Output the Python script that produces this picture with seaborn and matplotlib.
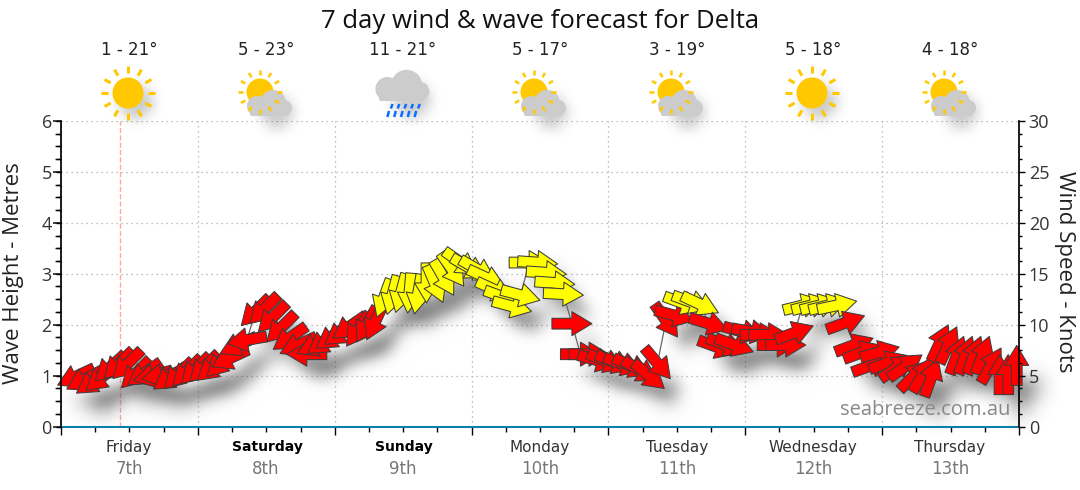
import numpy as np
import pandas as pd
import matplotlib
matplotlib.use('Agg')
import matplotlib.pyplot as plt
import seaborn as sns
from matplotlib.markers import MarkerStyle
from matplotlib.patches import Circle, FancyBboxPatch
from matplotlib.path import Path
from matplotlib.transforms import Affine2D

# forecast steps, in hours from the start of Friday
hours = [2.6, 4.1, 5.6, 7.1, 8.6, 10.1, 11.6, 13.1, 14.6, 16.1, 17.6, 19.1, 20.6, 22.1,
         23.6, 25.1, 26.6, 28.1, 29.6, 31.1, 32.6, 34.1, 35.6, 37.1, 38.6, 40.1, 41.6, 43.1, 44.6, 46.1,
         47.6, 49.1, 50.6, 52.1, 53.6, 55.1, 56.6, 58.1, 59.6, 61.1, 62.6, 64.1, 65.6, 67.1, 68.6, 70.1,
         71.6, 73.1, 74.6, 76.1, 77.6, 79.1, 80.6, 82.1, 83.6, 85.1, 86.6, 88.1, 89.6, 91.1, 92.6, 94.1,
         95.6, 97.1, 98.6, 100.1, 101.6, 103.1, 104.6, 106.1, 107.6, 109.1, 110.6, 112.1, 113.6, 115.1, 116.6, 118.1,
         119.6, 121.1, 122.6, 124.1, 125.6, 127.1, 128.6, 130.1, 131.6, 133.1, 134.6, 136.1, 137.6, 139.1, 140.6, 142.1,
         143.6, 145.1, 146.6, 148.1, 149.6, 151.1, 152.6, 154.1, 155.6, 157.1, 158.6, 160.1, 161.6, 163.1, 164.6, 166.1,
         167.6]
# wind speed in knots (right axis)
wind = [4.9, 4.6, 4.4, 4.8, 5.8, 6.1, 6.1, 5.2, 5.2, 5.0, 5.0, 4.8, 5.1, 5.4,
        5.6, 5.8, 5.8, 6.3, 6.7, 8.0, 8.5, 11.3, 11.5, 10.7, 9.7, 8.7, 8.0, 7.1, 8.0, 8.3,
        8.8, 9.2, 9.8, 9.5, 10.0, 10.3, 12.6, 12.9, 13.1, 13.1, 13.0, 14.1, 14.0, 14.6, 15.4, 16.1,
        15.6, 15.4, 14.6, 13.4, 12.7, 11.8, 12.9, 16.1, 16.1, 15.1, 14.1, 13.0, 10.1, 7.1, 7.1, 6.5,
        6.4, 6.3, 6.1, 5.9, 5.5, 5.0, 6.2, 10.4, 10.9, 12.1, 12.2, 12.0, 10.1, 7.8, 8.0, 8.0,
        9.3, 9.3, 9.0, 9.0, 8.0, 8.0, 9.2, 11.9, 11.9, 11.9, 11.9, 11.9, 10.2, 8.0, 7.3, 6.0,
        7.3, 6.3, 5.8, 5.9, 5.0, 5.1, 4.8, 8.2, 8.0, 7.0, 7.0, 7.0, 7.0, 6.0, 5.1, 5.1,
        6.0]
# arrow heading in degrees (0 = pointing right, anticlockwise)
heading = [205, 208, 215, 220, 222, 225, 225, 225, 215, 195, 190, 215, 225, 225,
           225, 225, 220, 225, 205, 205, 190, 225, 225, 225, 225, 215, 205, 180, 205, 215,
           215, 215, 215, 235, 240, 245, 250, 255, 255, 265, 260, 270, 293, 300, 305, 325,
           330, 330, 335, 335, 340, 345, 345, 0, -4, -4, -4, -3, 0, 0, 0, -15,
           -22, -22, -20, -25, -30, -40, -50, -55, -15, -20, -20, -25, -17, -20, -20, -20,
           -15, -10, 0, 0, 0, 0, 20, 14, 14, 14, 14, 12, 20, 20, 20, 20,
           15, 20, 35, 35, 45, 60, 70, 65, 65, 70, 70, 70, 70, 60, 90, 90,
           90]
# R = red arrow, Y = yellow arrow
colour_code = ['R'] * 36 + ['Y'] * 22 + ['R'] * 13 + ['Y'] * 3 + ['R'] * 11 + ['Y'] * 5 + ['R'] * 21

days = ['Friday', 'Saturday', 'Sunday', 'Monday', 'Tuesday', 'Wednesday', 'Thursday']
dates = ['7th', '8th', '9th', '10th', '11th', '12th', '13th']
bold_days = ['Saturday', 'Sunday']
temps = ['1 - 21°', '5 - 23°', '11 - 21°', '5 - 17°', '3 - 19°', '5 - 18°', '4 - 18°']
icons = ['sun', 'partly', 'rain', 'partly', 'partly', 'sun', 'partly']
icon_x = [128, 265, 402, 539, 676, 812, 949]
now_hour = 10.4

FONT = 'Open Sans'
sns.set_theme(style='white')
plt.rcParams['font.family'] = [FONT, 'DejaVu Sans']

RED, YELLOW, EDGE = '#ff0000', '#ffff00', '#3c3c3c'
SUN, CLOUD, DROP = '#ffc800', '#cccccc', '#0a6cff'


def arrow_marker(angle):
    # tail at -1, base of head at 0, tip at 1
    verts = [(-1, -0.27), (0, -0.27), (0, -0.6), (1, 0), (0, 0.6), (0, 0.27), (-1, 0.27), (-1, -0.27)]
    shape = Path(verts, closed=True)
    return MarkerStyle(shape, transform=Affine2D().rotate_deg(angle))


def soft_shadow(sigma, dx, dy):
    # agg filter: gaussian blur plus an offset, so shadows look like the canvas ones
    radius = int(3 * sigma)
    kernel = np.exp(-0.5 * (np.arange(-radius, radius + 1) / sigma) ** 2)
    kernel = kernel / kernel.sum()

    def apply(im, dpi):
        pad = radius + max(abs(dx), abs(dy)) + 1
        out = np.pad(im, [(pad, pad), (pad, pad), (0, 0)], 'constant')
        out = np.apply_along_axis(np.convolve, 0, out, kernel, mode='same')
        out = np.apply_along_axis(np.convolve, 1, out, kernel, mode='same')
        out = np.roll(out, dx, axis=1)
        out = np.roll(out, dy, axis=0)
        return out, -pad, -pad
    return apply


fig = plt.figure(figsize=(10.8, 4.9), dpi=100)
ax = fig.add_axes([61 / 1080, 1 - 426.5 / 490, 958 / 1080, 305.5 / 490], facecolor='none')
ax.set_xlim(0, 168)
ax.set_ylim(0, 30)

df = pd.DataFrame({'hour': hours, 'wind': wind, 'heading': heading, 'code': colour_code})
markers = {h: arrow_marker(h) for h in sorted(set(heading))}
ARROW_SIZE = 829

# shadow layer first
sns.scatterplot(data=df, x='hour', y='wind', style='heading', markers=markers, color='black',
                s=ARROW_SIZE, linewidth=0, alpha=0.4, legend=False, ax=ax, zorder=2, clip_on=False)
ax.collections[-1].set_agg_filter(soft_shadow(7, 8, 10))

sns.lineplot(data=df, x='hour', y='wind', color='#666666', linewidth=0.9, sort=False,
             legend=False, ax=ax, zorder=3)
sns.scatterplot(data=df, x='hour', y='wind', style='heading', markers=markers, hue='code',
                palette={'R': RED, 'Y': YELLOW}, s=ARROW_SIZE, linewidth=0.75, edgecolor=EDGE,
                legend=False, ax=ax, zorder=4, clip_on=False)

ax.set_xlabel('')
ax.set_ylabel('')
ax.set_xticks(range(0, 169, 24))
ax.set_xticks(range(0, 169, 6), minor=True)
ax.set_xticklabels([])
ax.set_yticks(range(0, 31, 5))
ax.set_yticklabels([])
ax.set_yticks(np.arange(0, 30.1, 1.25), minor=True)
ax.tick_params(axis='x', which='major', direction='out', length=6, width=1, color='black', bottom=True)
ax.tick_params(axis='x', which='minor', direction='out', length=3.5, width=1, color='black', bottom=True)
ax.tick_params(axis='y', which='both', left=False, right=False)
ax.grid(True, which='major', linestyle=(0, (1, 3)), color='#aaaaaa', linewidth=0.9)
ax.set_axisbelow(True)
for side in ['top', 'left', 'right']:
    ax.spines[side].set_visible(False)
ax.spines['bottom'].set_color('#0a80aa')
ax.spines['bottom'].set_linewidth(1.5)
ax.axvline(now_hour, color='#ffa8a8', linestyle='--', linewidth=1, zorder=1)

# left axis in metres, right axis in knots
left = ax.twinx()
left.yaxis.set_ticks_position('left')
left.set_ylim(0, 6)
left.set_yticks(range(0, 7))
left.set_yticks(np.arange(0, 6.1, 0.25), minor=True)
left.tick_params(axis='y', which='both', direction='out', length=3.6, width=1, color='black', pad=3,
                 labelsize=13, labelcolor='#333333', left=True)
left.grid(False)
for side in ['top', 'right', 'bottom']:
    left.spines[side].set_visible(False)
left.spines['left'].set_color('black')
left.patch.set_visible(False)

right = ax.twinx()
right.set_ylim(0, 30)
right.set_yticks(range(0, 31, 5))
right.set_yticks(np.arange(0, 30.1, 1.25), minor=True)
right.tick_params(axis='y', which='major', direction='out', length=4, width=1, color='black', pad=3,
                  labelsize=13, labelcolor='#333333', right=True)
right.tick_params(axis='y', which='minor', direction='out', length=2.2, width=1, color='black', right=True)
right.grid(False)
for side in ['top', 'left', 'bottom']:
    right.spines[side].set_visible(False)
right.spines['right'].set_color('black')
right.patch.set_visible(False)

# page furniture goes on a full-figure overlay in pixel coordinates
page = fig.add_axes([0, 0, 1, 1], facecolor='none', zorder=5)
page.set_xlim(0, 1080)
page.set_ylim(490, 0)
page.axis('off')

page.text(540, 21, '7 day wind & wave forecast for Delta', ha='center', va='center', fontsize=18.5, color='#111111')
page.text(14, 273, 'Wave Height - Metres', rotation=90, ha='center', va='center', fontsize=16, color='#222222')
page.text(1065, 272, 'Wind Speed - Knots', rotation=270, ha='center', va='center', fontsize=16, color='#222222')
page.text(925, 410, 'seabreeze.com.au', ha='center', va='center', fontsize=14.5, color='#888888')


def draw_sun(x, y, r, ray_in, ray_out, width):
    for a in np.radians(np.arange(0, 360, 30)):
        page.plot([x + ray_in * np.cos(a), x + ray_out * np.cos(a)],
                  [y + ray_in * np.sin(a), y + ray_out * np.sin(a)],
                  color=SUN, linewidth=width, solid_capstyle='butt')
    page.add_patch(Circle((x, y), r, color=SUN, linewidth=0))


def draw_cloud(x, y, scale):
    # x, y is the middle of the flat base
    parts = [Circle((x - 13 * scale, y - 10 * scale), 10 * scale),
             Circle((x + 3 * scale, y - 13 * scale), 13 * scale),
             Circle((x + 14 * scale, y - 8 * scale), 8 * scale),
             FancyBboxPatch((x - 20 * scale, y - 8 * scale), 38 * scale, 8 * scale,
                            boxstyle='round,pad=0,rounding_size=2')]
    for p in parts:
        p.set(facecolor=CLOUD, edgecolor='none')
        page.add_patch(p)


def icon_shadow(x, y, r):
    shade = Circle((x, y), r, facecolor='black', alpha=0.2, edgecolor='none')
    page.add_patch(shade)
    shade.set_agg_filter(soft_shadow(6, 0, 0))


for day, date, temp, icon, x in zip(days, dates, temps, icons, icon_x):
    if day in bold_days:
        page.text(x + 2, 447, day, ha='center', va='center', fontsize=10, color='black', fontweight='bold', family='DejaVu Sans')
    else:
        page.text(x + 1, 447, day, ha='center', va='center', fontsize=11, color='#333333', family='DejaVu Sans')
    page.text(x + 1, 469, date, ha='center', va='center', fontsize=12, color='#777777', family='DejaVu Sans')
    page.text(x + 1, 50, temp, ha='center', va='center', fontsize=12, color='#222222', family='DejaVu Sans')
    if icon == 'sun':
        icon_shadow(x + 8, 102, 18)
        draw_sun(x, 93, 15.5, 20, 27, 2.2)
    elif icon == 'partly':
        icon_shadow(x + 12, 112, 17)
        draw_sun(x - 5, 92, 13.5, 17, 22, 1.8)
        draw_cloud(x + 5, 116, 1.0)
    else:
        icon_shadow(x + 10, 100, 19)
        draw_cloud(x + 1, 101, 1.2)
        for col in range(5):
            for row in [0, 1]:
                x0 = x - 11 + col * 6.8 + (0 if row else 1.5) - row * 2
                y0 = 104 + row * 7
                page.plot([x0, x0 - 1.6], [y0, y0 + 4.5 + row * 1.5], color=DROP, linewidth=1.8, solid_capstyle='butt')

fig.savefig('out.png', dpi=100)
